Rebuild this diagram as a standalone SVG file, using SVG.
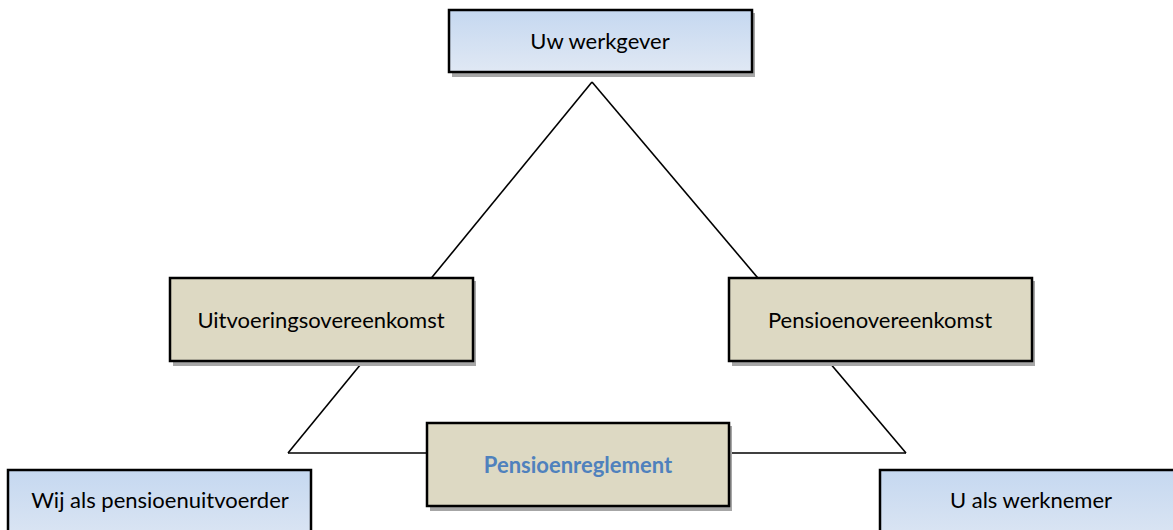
<svg xmlns="http://www.w3.org/2000/svg" width="1173" height="530" viewBox="0 0 1173 530">
  <defs>
    <linearGradient id="blueFill" x1="0" y1="0" x2="0" y2="1">
      <stop offset="0" stop-color="#c5d8f0"/>
      <stop offset="1" stop-color="#e0e8f4"/>
    </linearGradient>
    <style>
      .edge { stroke: #000; stroke-width: 1.6; fill: none; }
      .shadow { fill: #a6a6a6; }
      .blue { fill: url(#blueFill); stroke: #000; stroke-width: 2.5; }
      .tan { fill: #ddd9c3; stroke: #000; stroke-width: 2.5; }
      .lbl { font-family: Lato, "Liberation Sans", sans-serif; font-size: 22px; fill: #000; text-anchor: middle; }
      .lblb { font-family: Lato, "Liberation Sans", sans-serif; font-size: 22px; font-weight: bold; fill: #4f81bd; text-anchor: middle; }
    </style>
  </defs>
  <rect width="1173" height="530" fill="#fff"/>

  <g id="connectors">
    <line class="edge" x1="592" y1="82" x2="288" y2="453"/>
    <line class="edge" x1="592" y1="82" x2="906" y2="453"/>
    <line class="edge" x1="288" y1="453" x2="906" y2="453"/>
  </g>

  <g id="werkgever">
    <rect class="shadow" x="452" y="13" width="303" height="64"/>
    <rect class="blue" x="449" y="10" width="303" height="62"/>
    <text class="lbl" x="600" y="49">Uw werkgever</text>
  </g>

  <g id="uitvoeringsovereenkomst">
    <rect class="shadow" x="173" y="281" width="303" height="85"/>
    <rect class="tan" x="170" y="278" width="303" height="83"/>
    <text class="lbl" x="321" y="328">Uitvoeringsovereenkomst</text>
  </g>

  <g id="pensioenovereenkomst">
    <rect class="shadow" x="732" y="281" width="303" height="85"/>
    <rect class="tan" x="729" y="278" width="303" height="83"/>
    <text class="lbl" x="880" y="328">Pensioenovereenkomst</text>
  </g>

  <g id="pensioenreglement">
    <rect class="shadow" x="430" y="426" width="302" height="85"/>
    <rect class="tan" x="427" y="423" width="302" height="83"/>
    <text class="lblb" x="578" y="473">Pensioenreglement</text>
  </g>

  <g id="pensioenuitvoerder">
    <rect class="blue" x="8" y="470" width="303" height="84"/>
    <text class="lbl" x="160" y="508">Wij als pensioenuitvoerder</text>
  </g>

  <g id="werknemer">
    <rect class="blue" x="880" y="470" width="303" height="84"/>
    <text class="lbl" x="1031" y="508">U als werknemer</text>
  </g>
</svg>
